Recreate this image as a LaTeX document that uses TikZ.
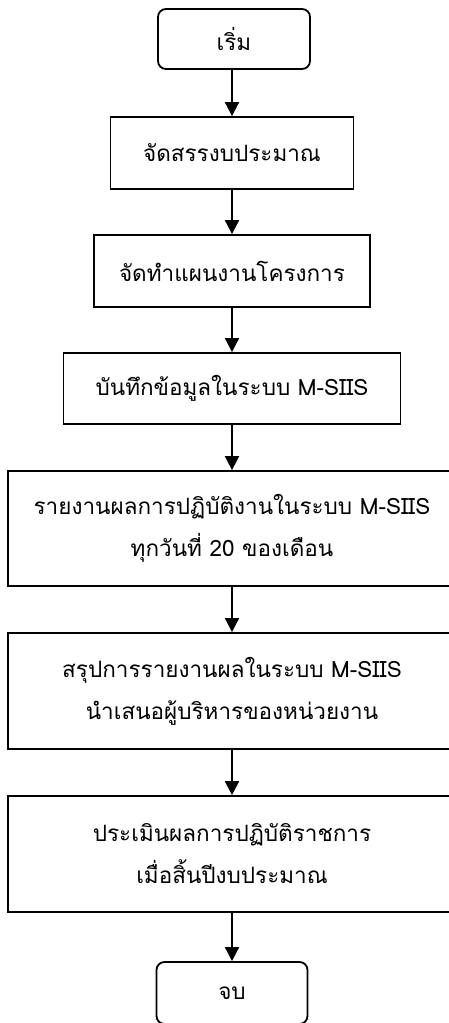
\documentclass[tikz,border=0pt]{standalone}
\usepackage{fontspec}
\newfontfamily\thaifont[Script=Thai]{Loma}
\usetikzlibrary{arrows.meta}
\tikzset{
  box/.style={draw=black, line width=1.8pt, fill=white, inner sep=0pt, align=center,
    font=\thaifont\fontsize{22.5}{42}\selectfont},
  term/.style={box, rounded corners=8pt},
  flow/.style={line width=1.9pt, -{Triangle[width=14pt,length=14pt]}}
}
\begin{document}
\begin{tikzpicture}[x=1pt,y=-1pt]
\useasboundingbox (0,0) rectangle (449,1023);
\node[term, minimum width=152pt, minimum height=60pt] (s) at (234,39) {เริ่ม};
\node[box, minimum width=243pt, minimum height=72pt] (b1) at (232,153) {จัดสรรงบประมาณ};
\node[box, minimum width=276pt, minimum height=72pt] (b2) at (232,271) {จัดทำแผนงานโครงการ};
\node[box, minimum width=337pt, minimum height=71pt] (b3) at (232,388.5) {บันทึกข้อมูลในระบบ M-SIIS};
\node[box, minimum width=448pt, minimum height=115pt] (b4) at (232,528.5) {รายงานผลการปฏิบัติงานในระบบ M-SIIS\\ทุกวันที่ 20 ของเดือน};
\node[box, minimum width=448pt, minimum height=116pt] (b5) at (232,691) {สรุปการรายงานผลในระบบ M-SIIS\\นำเสนอผู้บริหารของหน่วยงาน};
\node[box, minimum width=448pt, minimum height=116pt] (b6) at (232,854) {ประเมินผลการปฏิบัติราชการ\\เมื่อสิ้นปีงบประมาณ};
\node[term, minimum width=151pt, minimum height=62pt] (e) at (232,993) {จบ};
\draw[flow] (s.south -| b1.north) -- (b1.north);
\draw[flow] (b1) -- (b2);
\draw[flow] (b2) -- (b3);
\draw[flow] (b3) -- (b4);
\draw[flow] (b4) -- (b5);
\draw[flow] (b5) -- (b6);
\draw[flow] (b6) -- (e);
\end{tikzpicture}
\end{document}
